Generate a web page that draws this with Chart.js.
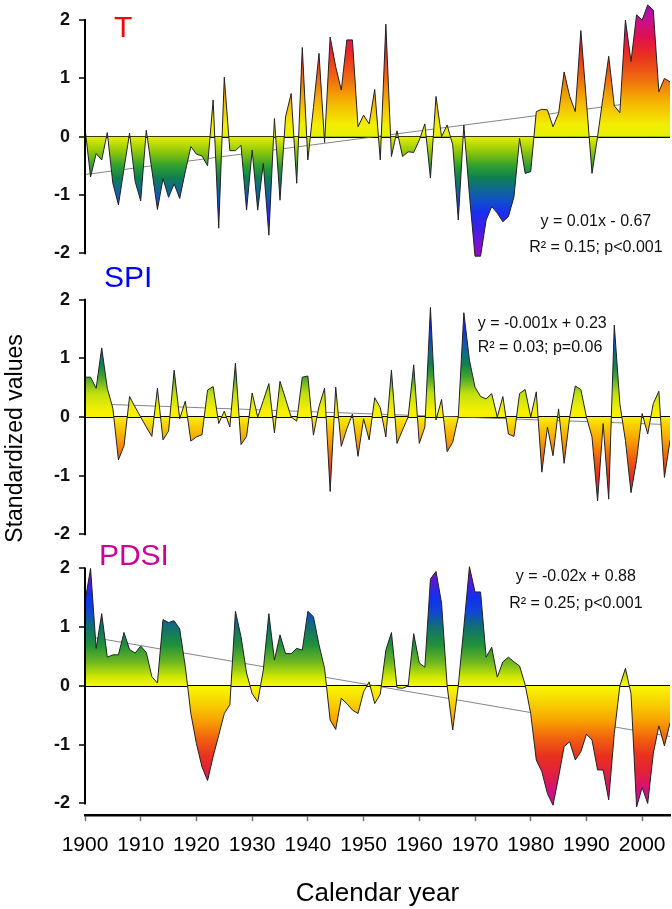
<!DOCTYPE html>
<html>
<head>
<meta charset="utf-8">
<script src="https://cdn.jsdelivr.net/npm/chart.js@4/dist/chart.umd.min.js"></script>
<style>
  html, body { margin: 0; padding: 0; background: #fff; }
  #wrap { position: relative; width: 672px; height: 909px; overflow: hidden; }
  canvas { position: absolute; left: 0; }
</style>
</head>
<body>
<div id="wrap">
  <canvas id="panelT" width="672" height="262" style="top:0px"></canvas>
  <canvas id="panelSPI" width="672" height="333" style="top:250px"></canvas>
  <canvas id="panelPDSI" width="672" height="379" style="top:530px"></canvas>
</div>
<script>
// calendar years on the x axis
const years = [
  1900, 1901, 1902, 1903, 1904, 1905, 1906, 1907, 1908, 1909,
  1910, 1911, 1912, 1913, 1914, 1915, 1916, 1917, 1918, 1919,
  1920, 1921, 1922, 1923, 1924, 1925, 1926, 1927, 1928, 1929,
  1930, 1931, 1932, 1933, 1934, 1935, 1936, 1937, 1938, 1939,
  1940, 1941, 1942, 1943, 1944, 1945, 1946, 1947, 1948, 1949,
  1950, 1951, 1952, 1953, 1954, 1955, 1956, 1957, 1958, 1959,
  1960, 1961, 1962, 1963, 1964, 1965, 1966, 1967, 1968, 1969,
  1970, 1971, 1972, 1973, 1974, 1975, 1976, 1977, 1978, 1979,
  1980, 1981, 1982, 1983, 1984, 1985, 1986, 1987, 1988, 1989,
  1990, 1991, 1992, 1993, 1994, 1995, 1996, 1997, 1998, 1999,
  2000, 2001, 2002, 2003, 2004, 2005
];

// standardized temperature
const tValues = [
  0.15, -0.69, -0.29, -0.40, 0.07, -0.80, -1.17, -0.55, 0.06, -0.77,
  -1.10, 0.11, -0.57, -1.25, -0.72, -1.04, -0.81, -1.06, -0.60, -0.17,
  -0.30, -0.33, -0.50, 0.63, -1.57, 1.02, -0.24, -0.24, -0.15, -1.26,
  -0.23, -1.26, -0.46, -1.69, 0.31, -1.09, 0.34, 0.74, -0.80, 1.53,
  -0.40, 0.50, 1.43, -0.10, 1.71, 1.20, 0.80, 1.66, 1.66, 0.17,
  0.37, 0.22, 0.81, -0.40, 1.93, -0.34, 0.10, -0.34, -0.26, -0.27,
  -0.06, 0.22, -0.71, 0.69, 0.00, 0.20, -0.14, -1.43, 0.20, -1.00,
  -2.05, -2.05, -1.43, -1.20, -1.31, -1.46, -1.37, -1.03, -0.03, -0.63,
  -0.60, 0.43, 0.47, 0.46, 0.17, 0.40, 1.11, 0.69, 0.43, 1.82,
  0.60, -0.63, 0.00, 0.69, 1.38, 0.53, 0.41, 2.00, 1.29, 2.09,
  2.00, 2.26, 2.17, 0.77, 1.00, 0.94
];

// standardized precipitation index
const spiValues = [
  0.68, 0.68, 0.49, 1.18, 0.49, 0.15, -0.73, -0.49, 0.35, 0.17,
  0.00, -0.17, -0.33, 0.49, -0.39, -0.24, 0.80, -0.03, 0.27, -0.41,
  -0.34, -0.30, 0.46, 0.52, -0.11, 0.10, -0.17, 0.92, -0.47, -0.33,
  0.41, 0.00, 0.28, 0.57, -0.27, 0.61, 0.31, 0.00, -0.07, 0.68,
  0.70, -0.31, 0.18, 0.49, -1.27, 0.51, -0.50, -0.20, 0.05, -0.67,
  -0.03, -0.39, 0.33, 0.16, -0.34, 0.80, -0.45, -0.22, 0.00, 0.89,
  -0.45, -0.17, 1.87, -0.05, 0.30, -0.59, -0.43, 0.00, 1.78, 0.97,
  0.51, 0.35, 0.31, 0.40, 0.00, 0.35, -0.29, -0.33, 0.40, 0.47,
  0.00, 0.43, -0.94, -0.17, -0.66, 0.14, -0.79, 0.00, 0.53, 0.47,
  0.00, -0.34, -1.43, -0.11, -1.40, 1.57, 0.23, -0.40, -1.29, -0.74,
  0.06, -0.29, 0.23, 0.44, -1.03, -0.40
];

// palmer drought severity index
const pdsiValues = [
  1.44, 2.00, 0.64, 1.23, 0.49, 0.53, 0.53, 0.91, 0.62, 0.56,
  0.68, 0.57, 0.16, 0.05, 1.13, 1.08, 1.11, 0.97, 0.33, -0.47,
  -0.98, -1.38, -1.61, -1.20, -0.84, -0.47, -0.32, 1.27, 0.84, 0.22,
  -0.13, -0.27, 0.27, 1.23, 0.44, 0.87, 0.55, 0.55, 0.64, 0.61,
  1.27, 1.18, 0.70, 0.30, -0.58, -0.74, -0.21, -0.30, -0.41, -0.47,
  -0.10, 0.07, -0.30, -0.14, 0.61, 0.91, -0.03, -0.04, 0.00, 0.89,
  0.39, 0.32, 1.82, 1.95, 1.41, 0.00, -0.75, 0.00, 1.00, 2.03,
  1.60, 1.60, 0.49, 0.66, 0.15, 0.41, 0.49, 0.41, 0.34, 0.02,
  -0.47, -1.26, -1.46, -1.83, -2.03, -1.55, -1.03, -0.95, -1.26, -1.12,
  -0.82, -0.92, -1.43, -1.43, -1.94, -0.81, 0.00, 0.30, -0.13, -2.06,
  -1.73, -2.00, -1.15, -0.68, -1.02, -0.63
];

// linear trend lines, read at both ends
const trendYears = [1900, 2005];
const tTrend = [-0.65, 0.66];
const spiTrend = [0.23, -0.13];
const pdsiTrend = [0.85, -0.86];

const yTicks = [-2, -1, 0, 1, 2];
const xTicks = [1900, 1910, 1920, 1930, 1940, 1950, 1960, 1970, 1980, 1990, 2000];

const FONT = "'Liberation Sans', Arial, sans-serif";

// colour ramps: [value, colour]
const warmRamp = [
  [2.3, '#8c10c8'], [2.0, '#c8108e'], [1.7, '#e0104e'], [1.4, '#e83020'],
  [1.0, '#f06a10'], [0.6, '#f5b400'], [0.2, '#f2ee00'], [0.0, '#e4f000'],
  [-0.1, '#c4e000'], [-0.3, '#80c010'], [-0.5, '#30a030'], [-0.7, '#108050'],
  [-0.9, '#106890'], [-1.1, '#1050c8'], [-1.3, '#1830f0'], [-1.6, '#4020e0'],
  [-1.9, '#8010d0'], [-2.15, '#a000c8']
];
const wetRamp = [
  [2.1, '#6010c0'], [1.8, '#4818d0'], [1.5, '#1030e0'], [1.2, '#1060b0'],
  [0.9, '#108050'], [0.7, '#40a030'], [0.4, '#c0e010'], [0.1, '#f8f000'],
  [0.0, '#f8f000'], [-0.1, '#f8d800'], [-0.4, '#f8a000'], [-0.7, '#f06010'],
  [-1.0, '#e83020'], [-1.3, '#e01060'], [-1.5, '#d010a0'], [-2.2, '#c000b0']
];
const pdsiRamp = [
  [2.1, '#6a10c8'], [1.9, '#7010d0'], [1.5, '#1030f0'], [1.25, '#1048d0'],
  [1.0, '#107070'], [0.7, '#20903a'], [0.4, '#70b820'], [0.15, '#d0e800'],
  [0.0, '#f8f800'], [-0.3, '#f8d000'], [-0.6, '#f8a000'], [-0.9, '#f06010'],
  [-1.2, '#e83020'], [-1.5, '#e02040'], [-1.8, '#d01080'], [-2.2, '#c010b0']
];

function rampFill(stops) {
  return function(context) {
    const chart = context.chart;
    if (!chart.chartArea) return null;
    const y = chart.scales.y;
    const top = y.getPixelForValue(stops[0][0]);
    const bot = y.getPixelForValue(stops[stops.length - 1][0]);
    const g = chart.ctx.createLinearGradient(0, top, 0, bot);
    stops.forEach(([v, c]) => {
      const f = (y.getPixelForValue(v) - top) / (bot - top);
      g.addColorStop(Math.min(1, Math.max(0, f)), c);
    });
    return g;
  };
}

// vertical axis line only from 2 to -2, like the original
const axisLine = {
  id: 'axisLine',
  afterDraw(chart) {
    const { ctx, chartArea, scales } = chart;
    const y = scales.y;
    ctx.save();
    ctx.strokeStyle = '#000';
    ctx.lineWidth = 2;
    ctx.beginPath();
    ctx.moveTo(chartArea.left, y.getPixelForValue(2) - 1);
    ctx.lineTo(chartArea.left, y.getPixelForValue(-2) + 1);
    ctx.stroke();
    ctx.restore();
  }
};

// panel names and regression notes, placed in data units
const notes = {
  id: 'notes',
  afterDraw(chart, args, opts) {
    const { ctx, scales } = chart;
    (opts.items || []).forEach(it => {
      ctx.save();
      ctx.font = it.font;
      ctx.fillStyle = it.color || '#111';
      ctx.textAlign = it.align || 'left';
      ctx.textBaseline = it.baseline || 'alphabetic';
      ctx.fillText(it.text, scales.x.getPixelForValue(it.x), scales.y.getPixelForValue(it.y));
      ctx.restore();
    });
  }
};

function makePanel(id, values, trend, ramp, cfg) {
  const el = document.getElementById(id);
  return new Chart(el, {
    type: 'line',
    data: {
      datasets: [
        {
          data: values.map((v, i) => ({ x: years[i], y: v })),
          borderColor: '#222',
          borderWidth: 1,
          pointRadius: 0,
          tension: 0,
          fill: 'origin',
          backgroundColor: rampFill(ramp)
        },
        {
          data: trend.map((v, i) => ({ x: trendYears[i], y: v })),
          borderColor: '#666',
          borderWidth: 0.8,
          pointRadius: 0,
          fill: false
        }
      ]
    },
    options: {
      responsive: false,
      animation: false,
      devicePixelRatio: 1,
      layout: { padding: { top: cfg.padTop, right: 2, left: 0, bottom: 0 } },
      plugins: {
        legend: { display: false },
        tooltip: { enabled: false },
        notes: { items: cfg.notes }
      },
      scales: {
        x: {
          type: 'linear',
          min: 1900,
          max: 2005,
          display: cfg.showX,
          afterBuildTicks: s => { s.ticks = xTicks.map(v => ({ value: v })); },
          afterFit: s => {
            if (cfg.showX) s.height = cfg.xHeight;
            s.paddingLeft = 0;
            s.paddingRight = 0;
          },
          border: { display: true, color: '#000', width: 2.5 },
          grid: { drawOnChartArea: false, drawTicks: true, tickLength: 6, tickColor: '#777', tickWidth: 1.5 },
          ticks: {
            font: { family: FONT, size: 21 },
            color: '#000',
            padding: 11,
            maxRotation: 0,
            autoSkip: false,
            callback: v => String(v)
          },
          title: {
            display: cfg.showX,
            text: 'Calendar year',
            font: { family: FONT, size: 26 },
            color: '#000',
            padding: { top: 0, bottom: 0 }
          }
        },
        y: {
          min: cfg.yMin,
          max: cfg.yMax,
          z: 1,
          afterBuildTicks: s => { s.ticks = yTicks.map(v => ({ value: v })); },
          afterFit: s => {
            s.width = 85;
            s.paddingTop = 0;
            s.paddingBottom = 0;
          },
          border: { display: false },
          grid: {
            drawOnChartArea: true,
            color: c => (c.tick && c.tick.value === 0 ? '#000' : 'rgba(0,0,0,0)'),
            lineWidth: c => (c.tick && c.tick.value === 0 ? 2 : 0),
            tickLength: 6,
            tickColor: '#000',
            tickWidth: 1.5
          },
          ticks: { font: { family: FONT, size: 18, weight: 'bold' }, color: '#111', padding: 9 },
          title: {
            display: cfg.yTitle,
            text: 'Standardized values',
            font: { family: FONT, size: 23 },
            color: '#000',
            padding: { top: 2, bottom: 0 }
          }
        }
      }
    },
    plugins: [axisLine, notes]
  });
}

const EQ = '16px ' + FONT;
const NAME = '30px ' + FONT;

makePanel('panelT', tValues, tTrend, warmRamp, {
  padTop: 2.6, yMin: -2.15, yMax: 2.3, showX: false, yTitle: false,
  notes: [
    { text: 'T', x: 1905.2, y: 1.71, font: NAME, color: '#ff0000' },
    { text: 'y = 0.01x - 0.67', x: 1991.7, y: -1.45, font: EQ, align: 'center', baseline: 'middle' },
    { text: 'R\u00b2 = 0.15; p<0.001', x: 1991.7, y: -1.90, font: EQ, align: 'center', baseline: 'middle' }
  ]
});

makePanel('panelSPI', spiValues, spiTrend, wetRamp, {
  padTop: 43.9, yMin: -2.83, yMax: 2.1, showX: false, yTitle: true,
  notes: [
    { text: 'SPI', x: 1903.4, y: 2.22, font: NAME, color: '#0000ff' },
    { text: 'y = -0.001x + 0.23', x: 1970.5, y: 1.60, font: EQ, baseline: 'middle' },
    { text: 'R\u00b2 = 0.03; p=0.06', x: 1970.5, y: 1.18, font: EQ, baseline: 'middle' }
  ]
});

makePanel('panelPDSI', pdsiValues, pdsiTrend, pdsiRamp, {
  padTop: 32.6, yMin: -2.2, yMax: 2.1, showX: true, xHeight: 93.8, yTitle: false,
  notes: [
    { text: 'PDSI', x: 1902.5, y: 2.06, font: NAME, color: '#cc0099' },
    { text: 'y = -0.02x + 0.88', x: 1988.1, y: 1.855, font: EQ, align: 'center', baseline: 'middle' },
    { text: 'R\u00b2 = 0.25; p<0.001', x: 1988.1, y: 1.41, font: EQ, align: 'center', baseline: 'middle' }
  ]
});
</script>
</body>
</html>
